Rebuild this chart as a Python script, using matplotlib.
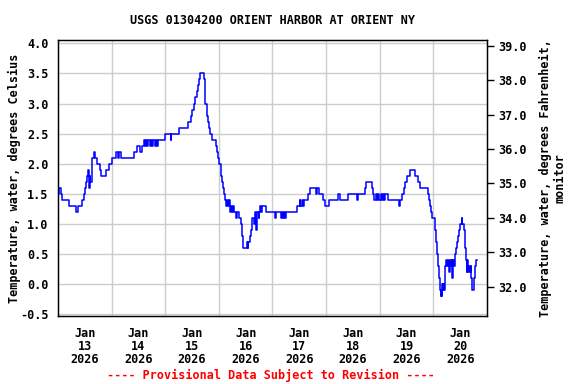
import matplotlib
matplotlib.use("Agg")
import matplotlib.pyplot as plt

# hours since 2026-01-13 00:00 and water temperature (deg C), step data
hours = [0, 0.5, 1.25, 1.75, 5.0, 8.25, 8.75, 10.75, 11.75, 12.0, 12.5, 13.0, 13.5, 14.0, 14.25, 14.5, 15.0,
         15.25, 16.0, 16.5, 17.5, 18.75, 19.25, 21.5, 22.75, 24.25, 26.0, 26.75, 27.25, 28.25, 34.0, 35.5,
         36.75, 37.5, 38.5, 39.0, 39.5, 39.75, 40.5, 41.0, 41.75, 42.0, 42.5, 43.5, 44.0, 44.25, 44.75,
         48.0, 50.5, 50.75, 54.25, 58.25, 59.5, 60.0, 60.75, 61.25, 62.0, 62.75, 63.25, 63.75, 65.5, 65.75,
         66.0, 66.5, 66.75, 67.25, 67.5, 68.0, 69.0, 70.75, 71.25, 71.75, 72.25, 72.75, 73.0, 73.5, 74.0,
         74.25, 74.75, 75.25, 75.75, 76.0, 76.5, 77.0, 77.5, 78.0, 78.25, 78.75, 79.75, 80.25, 81.0, 81.75,
         82.25, 82.5, 83.0, 84.75, 85.0, 85.25, 85.75, 86.25, 87.0, 87.5, 88.0, 88.5, 89.0, 89.25, 89.75,
         90.0, 90.5, 91.0, 91.5, 93.25, 97.25, 97.5, 99.75, 100.25, 100.75, 101.25, 101.75, 102.25, 107.0,
         108.25, 108.5, 109.0, 109.5, 110.0, 112.0, 113.0, 115.5, 116.0, 117.0, 118.75, 119.5, 121.25,
         125.5, 126.25, 129.75, 134.0, 134.25, 137.25, 138.0, 140.5, 141.0, 141.5, 142.5, 142.75, 143.25,
         143.75, 144.75, 145.0, 145.5, 146.0, 146.5, 147.5, 152.75, 153.25, 154.0, 154.75, 155.5, 156.25,
         157.75, 159.75, 161.25, 162.0, 165.5, 166.25, 166.5, 167.0, 167.5, 168.75, 169.25, 169.5, 170.0,
         170.5, 170.75, 171.25, 171.5, 171.75, 172.0, 172.25, 172.5, 172.75, 173.0, 173.25, 173.75, 174.25,
         174.5, 175.0, 175.25, 175.75, 176.25, 176.5, 176.75, 177.0, 177.25, 177.5, 178.0, 178.5, 179.0,
         179.25, 180.0, 180.75, 181.0, 181.5, 182.0, 182.25, 182.75, 183.0, 183.25, 183.5, 183.75, 184.25,
         184.75, 185.0, 185.25, 185.5, 186.0, 186.5, 187.0, 187.5]
temps = [1.5, 1.6, 1.5, 1.4, 1.3, 1.2, 1.3, 1.4, 1.5, 1.6, 1.7, 1.8, 1.9, 1.6, 1.8, 1.7, 1.9,
         2.1, 2.2, 2.1, 2.0, 1.9, 1.8, 1.9, 2.0, 2.1, 2.2, 2.1, 2.2, 2.1, 2.2, 2.3,
         2.2, 2.3, 2.4, 2.3, 2.4, 2.3, 2.4, 2.3, 2.4, 2.3, 2.4, 2.3, 2.4, 2.3, 2.4,
         2.5, 2.4, 2.5, 2.6, 2.7, 2.8, 2.9, 3.0, 3.1, 3.2, 3.3, 3.4, 3.5, 3.4, 3.3,
         3.0, 2.9, 2.8, 2.7, 2.6, 2.5, 2.4, 2.3, 2.2, 2.1, 2.0, 1.9, 1.8, 1.7, 1.6,
         1.5, 1.4, 1.3, 1.4, 1.3, 1.4, 1.2, 1.3, 1.2, 1.3, 1.2, 1.1, 1.2, 1.1, 1.0,
         0.9, 0.8, 0.6, 0.7, 0.6, 0.7, 0.8, 0.9, 1.1, 1.0, 1.2, 0.9, 1.1, 1.2, 1.1,
         1.2, 1.3, 1.2, 1.3, 1.2, 1.1, 1.2, 1.1, 1.2, 1.1, 1.2, 1.1, 1.2, 1.3,
         1.4, 1.3, 1.4, 1.3, 1.4, 1.5, 1.6, 1.5, 1.6, 1.5, 1.4, 1.3, 1.4,
         1.5, 1.4, 1.5, 1.4, 1.5, 1.6, 1.7, 1.6, 1.5, 1.4, 1.5, 1.4, 1.5,
         1.4, 1.5, 1.4, 1.5, 1.4, 1.5, 1.4, 1.3, 1.4, 1.5, 1.6, 1.7, 1.8,
         1.9, 1.8, 1.7, 1.6, 1.5, 1.4, 1.3, 1.2, 1.1, 0.9, 0.7, 0.5, 0.3,
         0.1, -0.1, -0.2, -0.1, -0.2, 0.0, -0.1, 0.0, -0.1, 0.1, 0.3, 0.4, 0.3,
         0.4, 0.2, 0.4, 0.3, 0.4, 0.1, 0.3, 0.4, 0.3, 0.5, 0.6, 0.7, 0.8,
         0.9, 1.0, 1.1, 1.0, 0.9, 0.7, 0.6, 0.4, 0.2, 0.4, 0.2, 0.3, 0.2,
         0.3, 0.1, 0.0, -0.1, 0.1, 0.3, 0.4, 0.4]

day_labels = ["Jan\n13\n2026", "Jan\n14\n2026", "Jan\n15\n2026", "Jan\n16\n2026",
              "Jan\n17\n2026", "Jan\n18\n2026", "Jan\n19\n2026", "Jan\n20\n2026"]
c_ticks = [-0.5, 0.0, 0.5, 1.0, 1.5, 2.0, 2.5, 3.0, 3.5, 4.0]
f_ticks = [32.0, 33.0, 34.0, 35.0, 36.0, 37.0, 38.0, 39.0]

FONT = "DejaVu Sans Mono"
FS = 8.5

fig = plt.figure(figsize=(5.76, 3.84), dpi=100)
ax = fig.add_axes([58/576, 1-316/384, 429/576, 276/384])

ax.step(hours, temps, where="post", color="#0000ff", lw=1.1, zorder=3)

ax.set_xlim(0, 192)
ax.set_ylim(-0.53, 4.055)
ax.set_xticks([24*k for k in range(1, 8)])
ax.set_xticks([12 + 24*k for k in range(8)], minor=True)
ax.set_xticklabels([], minor=False)
ax.set_xticklabels(day_labels, minor=True, fontfamily=FONT, fontweight="bold", fontsize=FS,
                   linespacing=1.0)
ax.tick_params(axis="x", which="both", length=0, pad=8)
ax.set_yticks(c_ticks)
ax.set_yticklabels([f"{v:.1f}" for v in c_ticks], fontfamily=FONT, fontweight="bold", fontsize=FS)
ax.tick_params(axis="y", length=0, pad=7)
ax.grid(True, which="major", color="#cccccc", lw=1.0)
ax.set_axisbelow(True)
for s in ax.spines.values():
    s.set_linewidth(1.0)
    s.set_color("black")

ax.set_ylabel("Temperature, water, degrees Celsius", fontfamily=FONT, fontweight="bold", fontsize=FS)
ax.yaxis.set_label_coords(-0.087, 0.5)

ax2 = ax.twinx()
ax2.set_ylim(31.148, 39.166)
ax2.set_yticks(f_ticks)
ax2.set_yticklabels([f"{v:.1f}" for v in f_ticks], fontfamily=FONT, fontweight="bold", fontsize=FS)
ax2.tick_params(axis="y", length=5, width=1, direction="out", pad=3)
ax2.set_ylabel("Temperature, water, degrees Fahrenheit,\nmonitor", fontfamily=FONT,
               fontweight="bold", fontsize=FS, rotation=90, linespacing=1.1, ha="center")
ax2.yaxis.set_label_coords(1.122, 0.5)

fig.text(272/576, 1-20/384, "USGS 01304200 ORIENT HARBOR AT ORIENT NY", ha="center", va="center",
         fontfamily=FONT, fontweight="bold", fontsize=FS)
fig.text(271/576, 1-375/384, "---- Provisional Data Subject to Revision ----", ha="center",
         va="center", color="red", fontfamily=FONT, fontweight="bold", fontsize=FS)

fig.savefig("out.png", dpi=100)
